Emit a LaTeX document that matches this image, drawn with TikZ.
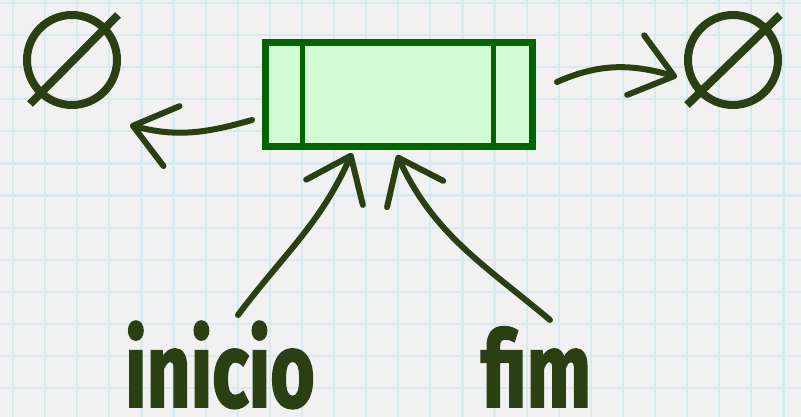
\documentclass[tikz,border=0pt]{standalone}
\usepackage{fontspec}
\usepackage{tikz}
\usetikzlibrary{
arrows.meta,
positioning,
calc
}
\newfontfamily\rotulo{Fira Sans}[FakeStretch=0.72,FakeBold=1.5]
\definecolor{gridblue}{HTML}{D8E9F0}
\definecolor{paper}{HTML}{F1F1F1}
\definecolor{boxgreen}{HTML}{006400}
\definecolor{boxfill}{HTML}{D4FCD4}
\definecolor{ink}{HTML}{2A3F12}

\begin{document}
\begin{tikzpicture}[
    x=1pt,
    y=1pt,
    brush/.style={
        draw=ink,
        line width=6pt,
        line cap=round,
        -{Straight Barb[length=40pt,width=62pt,round]}
    },
    emptyset/.style={
        circle,
        draw=ink,
        line width=8pt,
        minimum size=90pt,
        inner sep=0pt
    },
    labeltext/.style={
        font=\rotulo\bfseries\fontsize{106}{106}\selectfont,
        text=ink,
        anchor=base,
        inner sep=0pt
    }
]

% Background
\fill[paper] (0,0) rectangle (801,417);
\useasboundingbox (0,0) rectangle (801,417);

% Grid
\foreach \k in {0,...,24}{
    \draw[gridblue, line width=2.2pt]
    (13+32.1*\k,0) -- (13+32.1*\k,417);
}
\foreach \k in {0,...,12}{
    \draw[gridblue, line width=2.2pt]
    (0,414-32.1*\k) -- (801,414-32.1*\k);
}

% Queue box
\node[
    draw=boxgreen,
    fill=boxfill,
    line width=7pt,
    minimum width=267pt,
    minimum height=104pt
] (fila) at (399,322.5) {};

\draw[boxgreen, line width=5pt]
([xshift=40pt]fila.north west) -- ([xshift=40pt]fila.south west);
\draw[boxgreen, line width=5pt]
([xshift=-43pt]fila.north east) -- ([xshift=-43pt]fila.south east);

% Empty sets
\node[emptyset] (vazioE) at (72,357) {};
\draw[ink, line width=8pt]
($(vazioE.center)+(-42,-44)$) -- ($(vazioE.center)+(46,45)$);

\node[emptyset] (vazioD) at (733,357) {};
\draw[ink, line width=8pt]
($(vazioD.center)+(-46,-45)$) -- ($(vazioD.center)+(47,45)$);

% Labels
\node[labeltext] (inicio) at (220,10) {inicio};
\node[labeltext] (fim) at (536,10) {fim};

% Arrows
\draw[brush]
([shift={(-10,-25.5)}]fila.west)
to[out=196,in=-15]
([shift={(58,-65)}]vazioE.center);

\draw[brush]
([shift={(21,12.5)}]fila.east)
to[out=24,in=164]
([shift={(-56,-17)}]vazioD.center);

\draw[brush]
([shift={(18,92)}]inicio.base)
to[out=53,in=-114]
([shift={(-47,-3)}]fila.south);

\draw[brush]
([shift={(14,87)}]fim.base)
to[out=140,in=-65]
([shift={(-2,-5)}]fila.south);

\end{tikzpicture}
\end{document}
